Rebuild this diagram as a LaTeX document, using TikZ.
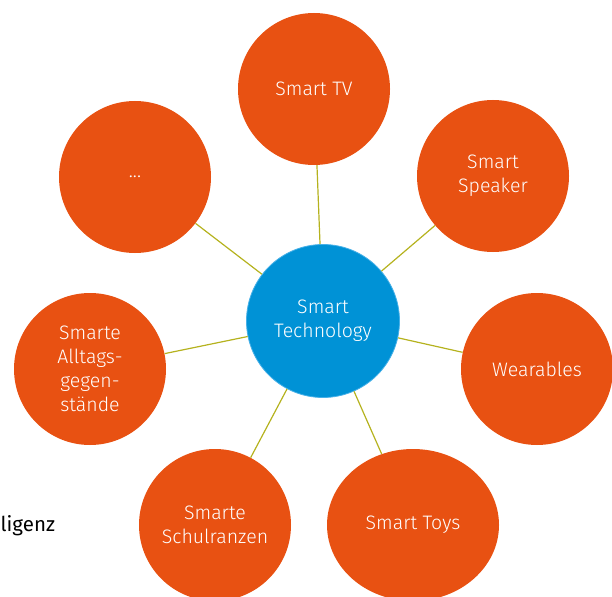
\documentclass[tikz,border=0pt]{standalone}
\usepackage{fontspec}
\setmainfont{Fira Sans Light}
\newfontfamily\plainfont{Fira Sans}
\usetikzlibrary{shapes.geometric}
\definecolor{smartorange}{RGB}{232,81,18}
\definecolor{smartblue}{RGB}{0,146,214}
\definecolor{smartrim}{RGB}{70,176,232}
\definecolor{smartolive}{RGB}{181,178,30}
\begin{document}
\begin{tikzpicture}[x=1pt,y=-1pt,
  item/.style={circle,fill=smartorange,text=white,minimum size=152pt,inner sep=0pt,
    align=center,font=\fontsize{19.5}{24}\selectfont},
  hub/.style={circle,fill=smartblue,draw=smartrim,line width=0.8pt,text=white,
    minimum size=153pt,inner sep=0pt,align=center,font=\fontsize{19.5}{24}\selectfont},
  link/.style={draw=smartolive,line width=1.2pt}]
  \useasboundingbox (0,0) rectangle (612,596);

  \node[hub] (hub) at (323,321) {Smart\\Technology};
  \node[item] (tv) at (314,89) {Smart TV};
  \node[item] (speaker) at (493,176) {Smart\\Speaker};
  \node[item] (wear) at (537,369) {Wearables};
  \node[item,ellipse,minimum width=172pt,minimum height=152pt] (toys) at (413,525) {Smart Toys};
  \node[item] (bag) at (215,525) {Smarte\\Schulranzen};
  \node[item] (things) at (90,369) {Smarte\\Alltags-\\gegen-\\stände};
  \node[item] (more) at (135,177) {...};
  \node[anchor=base west,inner sep=0pt,font=\plainfont\fontsize{20.5}{24}\selectfont] (rest) at (0.5,531) {ligenz};

  \draw[link] (hub) -- (tv);
  \draw[link] (hub) -- (speaker);
  \draw[link] (hub) -- (wear);
  \draw[link] (hub) -- (toys);
  \draw[link] (hub) -- (bag);
  \draw[link] (hub) -- (things);
  \draw[link] (hub) -- (more);
\end{tikzpicture}
\end{document}
